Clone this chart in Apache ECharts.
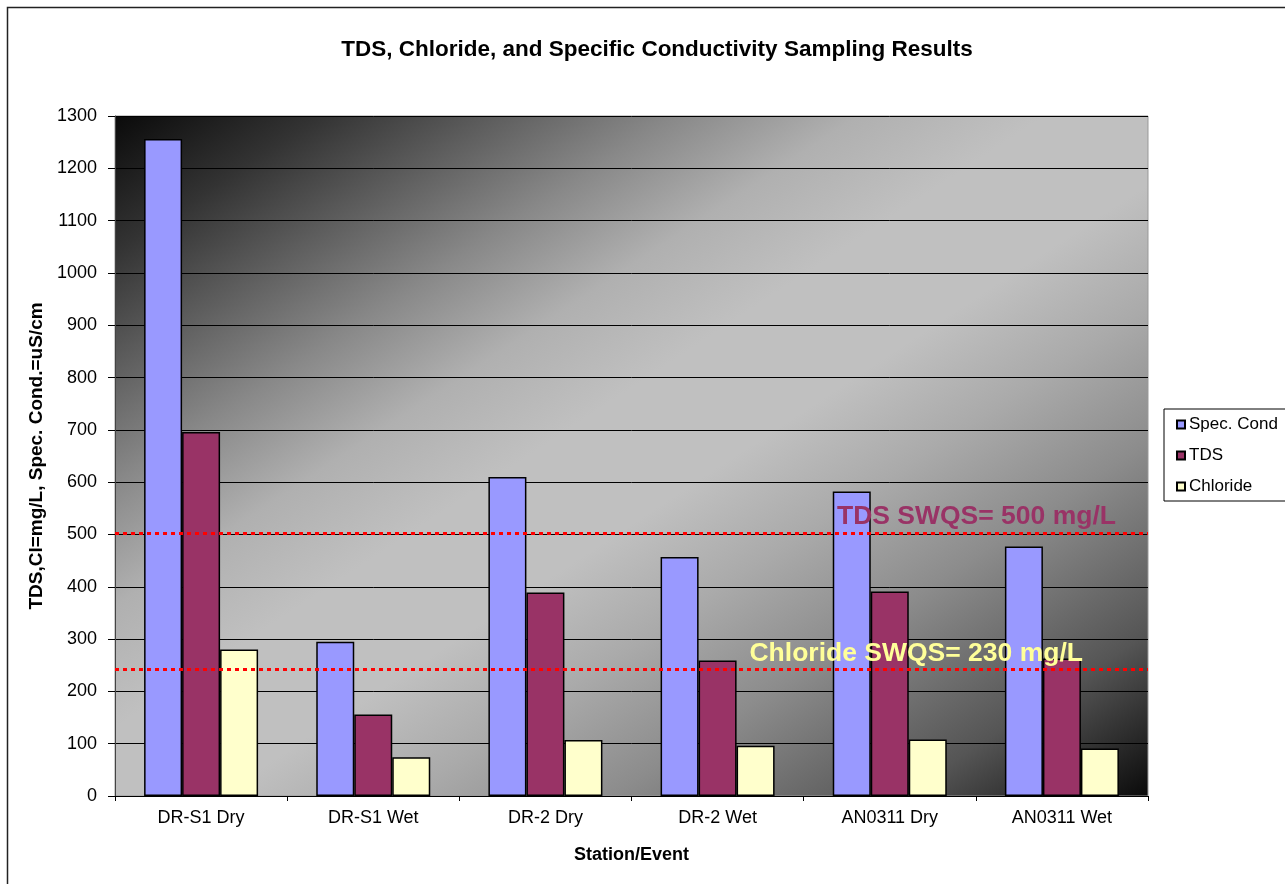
<!DOCTYPE html>
<html>
<head>
<meta charset="utf-8">
<script src="https://cdn.jsdelivr.net/npm/echarts@6/dist/echarts.min.js"></script>
<style>
  html, body { margin: 0; padding: 0; background: #fff; }
  #chart { width: 1285px; height: 884px; }
</style>
</head>
<body>
<div id="chart"></div>
<script>
// station / event categories
var categories = ['DR-S1 Dry', 'DR-S1 Wet', 'DR-2 Dry', 'DR-2 Wet', 'AN0311 Dry', 'AN0311 Wet'];
// values
var specCond = [1256, 295, 610, 457, 582, 477];
var tds = [696, 156, 389, 259, 391, 263];
var chloride = [280, 74, 107, 96, 108, 91];
// standard lines (as drawn)
var tdsStd = 502;
var chlorideStd = 243;
var yTicks = { min: 0, max: 1300, interval: 100 };

var font = 'Liberation Sans, Arial, sans-serif';

var myChart = echarts.init(document.getElementById('chart'));
myChart.setOption({
    animation: false,
    title: {
        text: 'TDS, Chloride, and Specific Conductivity Sampling Results',
        left: 652,
        top: 33,
        textAlign: 'center',
        textStyle: { fontFamily: font, fontSize: 22.5, fontWeight: 'bold', color: '#000' }
    },
    graphic: [{
        type: 'rect',
        shape: { x: 7.5, y: 7.5, width: 1300, height: 900 },
        style: { fill: 'none', stroke: '#222', lineWidth: 1.5 },
        silent: true
    }],
    legend: {
        orient: 'vertical',
        left: 1164,
        top: 409,
        padding: [7, 40, 6, 12],
        itemWidth: 8,
        itemHeight: 8,
        itemGap: 14,
        borderColor: '#000',
        borderWidth: 1,
        icon: 'rect',
        textStyle: { fontFamily: font, fontSize: 17, color: '#000', padding: [0, 0, 0, -1] },
        data: ['Spec. Cond', 'TDS', 'Chloride']
    },
    grid: {
        left: 115,
        right: 137,
        top: 116,
        bottom: 88,
        show: true,
        borderColor: '#999',
        borderWidth: 1,
        // diagonal shade: dark corners top-left / bottom-right, light band across
        backgroundColor: new echarts.graphic.LinearGradient(0, 0, 0.6047, 1.3953, [
            { offset: 0, color: '#0a0a0a' },
            { offset: 0.1, color: '#333333' },
            { offset: 0.27, color: '#888888' },
            { offset: 0.36, color: '#b0b0b0' },
            { offset: 0.45, color: '#c0c0c0' },
            { offset: 0.55, color: '#c0c0c0' },
            { offset: 0.64, color: '#aaaaaa' },
            { offset: 0.74, color: '#8c8c8c' },
            { offset: 0.88, color: '#555555' },
            { offset: 1, color: '#0a0a0a' }
        ])
    },
    xAxis: {
        type: 'category',
        data: categories,
        name: 'Station/Event',
        nameLocation: 'middle',
        nameGap: 50,
        nameTextStyle: { fontFamily: font, fontSize: 18, fontWeight: 'bold', color: '#000' },
        axisLine: { lineStyle: { color: '#000', width: 1 } },
        axisTick: { show: true, length: 5, lineStyle: { color: '#000' } },
        axisLabel: { fontFamily: font, fontSize: 18, color: '#000', margin: 13 }
    },
    yAxis: {
        type: 'value',
        min: yTicks.min,
        max: yTicks.max,
        interval: yTicks.interval,
        name: 'TDS,Cl=mg/L, Spec. Cond.=uS/cm',
        nameLocation: 'middle',
        nameGap: 63,
        nameTextStyle: { fontFamily: font, fontSize: 19, fontWeight: 'bold', color: '#000' },
        axisLine: { show: true, lineStyle: { color: '#444', width: 1 } },
        axisTick: { show: true, length: 7, lineStyle: { color: '#000' } },
        axisLabel: {
            fontFamily: font, fontSize: 18, color: '#000', margin: 18,
            formatter: function (v) { return String(v); }
        },
        splitLine: { show: true, lineStyle: { color: '#000', width: 1 } }
    },
    series: [
        {
            name: 'Spec. Cond',
            type: 'bar',
            data: specCond,
            barWidth: 38,
            barGap: '0%',
            itemStyle: { color: '#9999FF', borderColor: '#000', borderWidth: 1.5 }
        },
        {
            name: 'TDS',
            type: 'bar',
            data: tds,
            barWidth: 38,
            barGap: '0%',
            itemStyle: { color: '#993366', borderColor: '#000', borderWidth: 1.5 },
            markLine: {
                silent: true,
                symbol: 'none',
                z: 10,
                lineStyle: { color: '#FF0000', width: 3, type: [4, 4] },
                data: [
                    {
                        yAxis: tdsStd,
                        label: {
                            show: true,
                            position: 'insideEndTop',
                            formatter: 'TDS SWQS= 500 mg/L',
                            fontFamily: font, fontSize: 26.5, fontWeight: 'bold',
                            color: '#993366',
                            distance: 3,
                            padding: [0, 29, 0, 0]
                        }
                    },
                    {
                        yAxis: chlorideStd,
                        label: {
                            show: true,
                            position: 'insideEndTop',
                            formatter: 'Chloride SWQS= 230 mg/L',
                            fontFamily: font, fontSize: 26.5, fontWeight: 'bold',
                            color: '#FFFF99',
                            distance: 2,
                            padding: [0, 63, 0, 0]
                        }
                    }
                ]
            }
        },
        {
            name: 'Chloride',
            type: 'bar',
            data: chloride,
            barWidth: 38,
            barGap: '0%',
            itemStyle: { color: '#FFFFCC', borderColor: '#000', borderWidth: 1.5 }
        }
    ]
});
</script>
</body>
</html>
